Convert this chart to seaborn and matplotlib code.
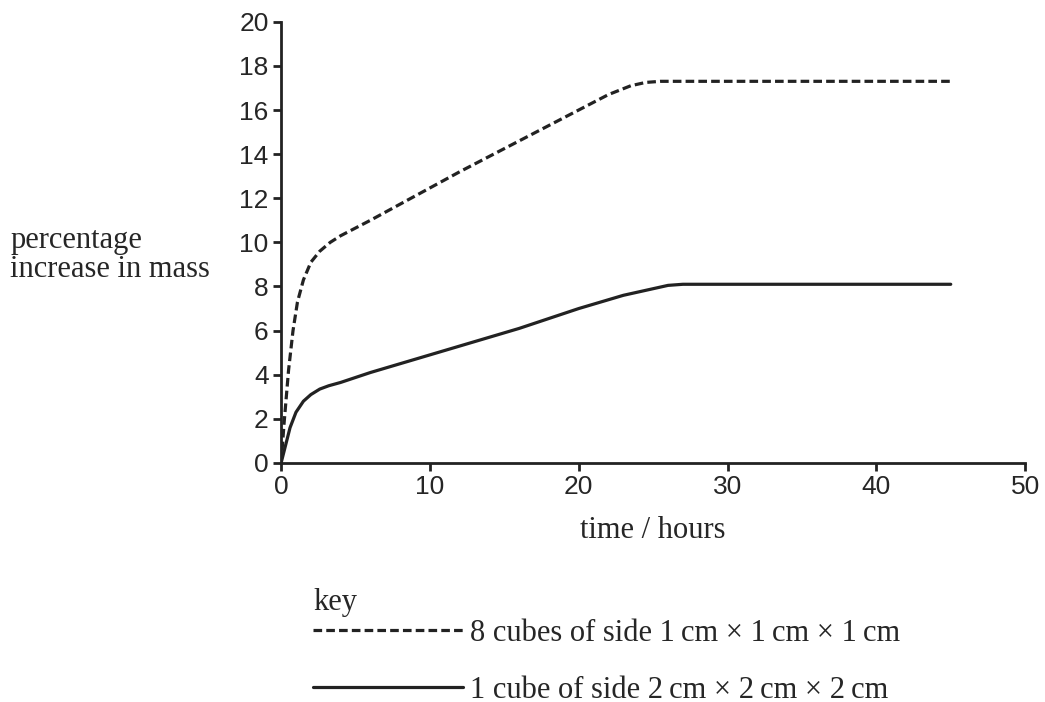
import numpy as np
import matplotlib
matplotlib.use("Agg")
import matplotlib.pyplot as plt
import seaborn as sns
import pandas as pd

# values
small_label = "8 cubes of side 1\u2009cm \u00d7 1\u2009cm \u00d7 1\u2009cm"
big_label = "1 cube of side 2\u2009cm \u00d7 2\u2009cm \u00d7 2\u2009cm"

small_time = [0, 0.2, 0.5, 0.8, 1.1, 1.5, 2.0, 2.6, 3.3, 4.0, 6.0, 9.0, 12.0, 16.0, 20.0, 22.0, 23.5, 24.5, 25.5, 45.0]
small_mass = [0, 1.8, 4.2, 6.0, 7.3, 8.3, 9.1, 9.6, 10.0, 10.3, 11.0, 12.1, 13.2, 14.6, 16.0, 16.7, 17.1, 17.25, 17.3, 17.3]

big_time = [0, 0.3, 0.6, 1.0, 1.5, 2.0, 2.6, 3.2, 4.0, 6.0, 9.0, 12.0, 16.0, 20.0, 23.0, 25.0, 26.0, 27.0, 45.0]
big_mass = [0, 0.8, 1.6, 2.3, 2.8, 3.1, 3.35, 3.5, 3.65, 4.1, 4.7, 5.3, 6.1, 7.0, 7.6, 7.9, 8.05, 8.1, 8.1]

df = pd.concat([
    pd.DataFrame({"time": small_time, "mass": small_mass, "cubes": small_label}),
    pd.DataFrame({"time": big_time, "mass": big_mass, "cubes": big_label}),
])

sns.set_style("ticks")
plt.rcParams["font.family"] = ["Liberation Sans", "DejaVu Sans"]

fig = plt.figure(figsize=(10.45, 7.02), dpi=100)
ax = fig.add_axes([0.269, 0.3405, 0.712, 0.6285])

sns.lineplot(data=df, x="time", y="mass", style="cubes", color="#222222",
             dashes={small_label: (2.7, 1.3), big_label: ""},
             linewidth=2.3, sort=False, estimator=None, ax=ax)

ax.set_xlim(0, 50)
ax.set_ylim(0, 20)
ax.set_xticks(range(0, 51, 10))
ax.set_yticks(range(0, 21, 2))
ax.tick_params(labelsize=19, length=6, width=2, color="#222222", pad=3)
for s in ["left", "bottom"]:
    ax.spines[s].set_linewidth(2)
    ax.spines[s].set_color("#222222")
sns.despine(ax=ax)

serif = ["Liberation Serif", "DejaVu Serif"]
ax.set_xlabel("time / hours", family=serif, fontsize=22, labelpad=12)
ax.set_ylabel("")
fig.text(0.01, 0.637, "percentage\nincrease in mass", family=serif, fontsize=22,
         ha="left", va="center", linespacing=1.0)

# key
fig.text(0.3, 0.142, "key", family=serif, fontsize=22, ha="left", va="center")
leg = ax.legend(loc="upper left", bbox_to_anchor=(0.2995, 0.118),
                bbox_transform=fig.transFigure, frameon=False,
                prop={"family": serif, "size": 22}, handlelength=4.9,
                handletextpad=0.25, labelspacing=0.9, borderpad=0,
                borderaxespad=0)

fig.savefig("out.png", dpi=100)
